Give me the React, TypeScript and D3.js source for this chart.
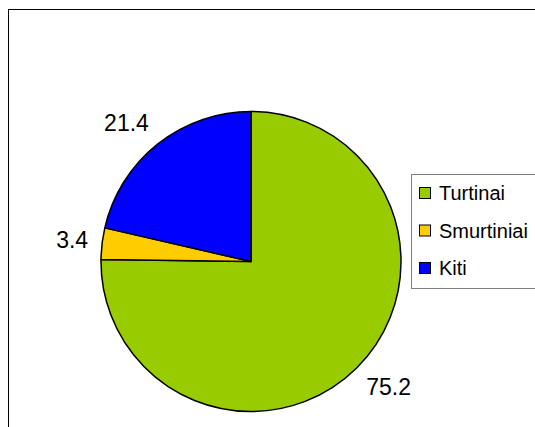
import React from "react";
import * as d3 from "d3";

const categories = ["Turtinai", "Smurtiniai", "Kiti"];
const values = [75.2, 3.4, 21.4];
const labels = ["75.2", "3.4", "21.4"];
const colors = ["#99CC00", "#FFCC00", "#0000FF"];

export default function App() {
  const W = 527;
  const H = 419;
  const cx = 243;
  const cy = 253.5;
  const r = 150;
  const legendFont = 20;
  const labelFont = 23;
  const font = "'Liberation Sans', Arial, sans-serif";

  const pie = d3.pie<number>().sort(null).value((d) => d).startAngle(0).endAngle(2 * Math.PI);
  const arcs = pie(values);
  const arcGen = d3.arc<d3.PieArcDatum<number>>().innerRadius(0).outerRadius(r);

  const legendX = 403;
  const legendY = 166;
  const legendH = 114;
  const rowY = d3.scalePoint<string>().domain(categories).range([legendY + 19, legendY + 94]);

  return (
    <svg
      width={W}
      height={H}
      style={{ display: "block", overflow: "hidden", position: "absolute", left: 8, top: 8 }}
    >
      <rect x={0.5} y={1.5} width={W + 40} height={H + 40} fill="white" stroke="#000" strokeWidth={1} />
      <g transform={`translate(${cx},${cy})`}>
        {arcs.map((a, i) => (
          <path key={i} d={arcGen(a) || ""} fill={colors[i]} stroke="#000" strokeWidth={1.5} strokeLinejoin="round" />
        ))}
        {arcs.map((a, i) => {
          const mid = (a.startAngle + a.endAngle) / 2;
          const ux = Math.sin(mid);
          const uy = -Math.cos(mid);
          const R0 = r + 14;
          const px = ux * R0;
          const py = uy * R0 + uy * (labelFont * 0.55);
          return (
            <text
              key={"l" + i}
              x={px}
              y={py}
              textAnchor={ux < 0 ? "end" : "start"}
              dominantBaseline="central"
              fontFamily={font}
              fontSize={labelFont}
              fill="#000"
            >
              {labels[i]}
            </text>
          );
        })}
      </g>
      <rect x={legendX + 0.5} y={legendY + 0.5} width={200} height={legendH} fill="white" stroke="#808080" strokeWidth={1} />
      {categories.map((c, i) => {
        const y = rowY(c) as number;
        return (
          <g key={c}>
            <rect x={legendX + 8.5} y={y - 5.5} width={11} height={11} fill={colors[i]} stroke="#000" strokeWidth={1} />
            <text x={legendX + 28} y={y} dominantBaseline="central" fontFamily={font} fontSize={legendFont} fill="#000">
              {c}
            </text>
          </g>
        );
      })}
    </svg>
  );
}
